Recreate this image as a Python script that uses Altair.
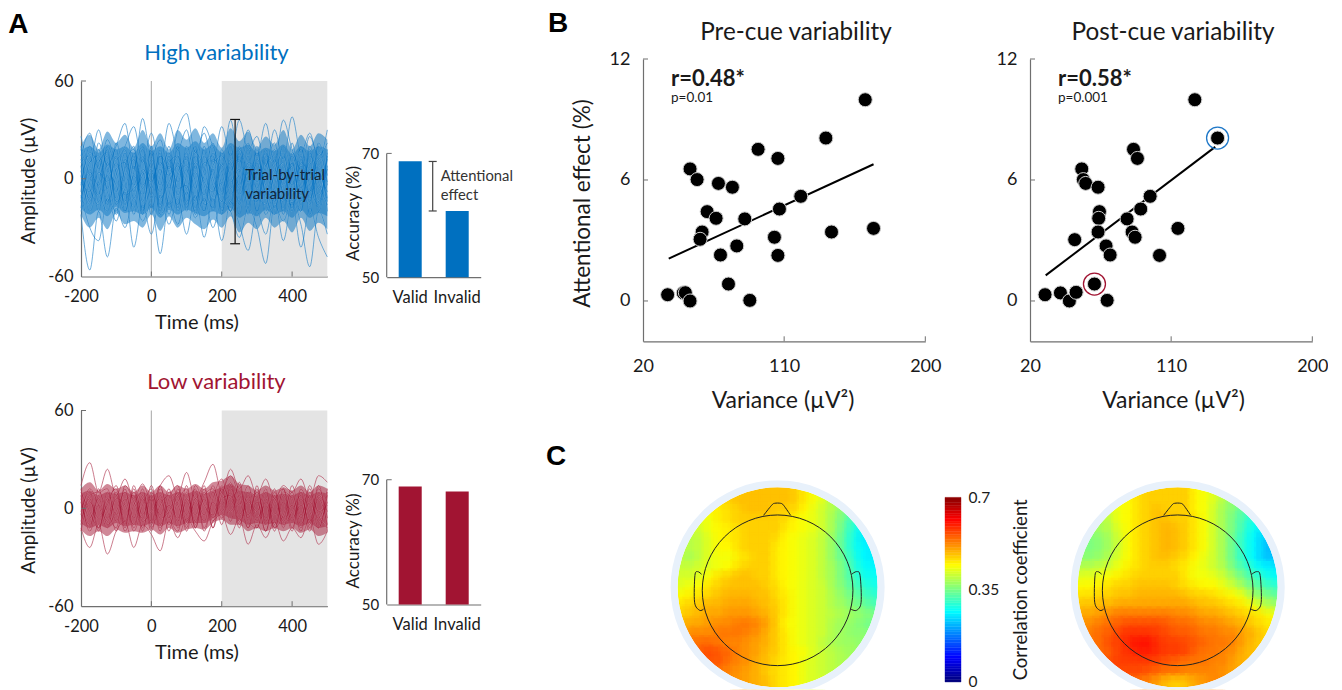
import altair as alt
import pandas as pd

FONT = "Lato"
BLUE = "#0070C0"
RED = "#A11432"
AX = "#6f6f6f"
TXT = "#1a1a1a"
PAD_TOP = 2

TIME = [-200,-175,-150,-125,-100,-75,-50,-25,0,25,50,75,100,125,150,175,200,225,250,275,300,325,350,375,400,425,450,475,500]
HIGH = [
[-22,-56,-20,-48,-18,-30,-12,-26,-15,-46,-14,-28,-8,-24,-12,-30,-14,-20,-36,-18,-30,-52,-16,-26,-12,-28,-54,-20,-34],
[-10,-30,-38,-12,-26,-8,-42,-16,-34,-10,-28,-12,-34,-10,-36,-12,-38,-14,-28,-44,-20,-34,-12,-38,-14,-42,-18,-36,-48],
[26,10,30,8,20,34,6,37,14,24,6,30,40,16,28,10,32,14,36,18,26,8,30,12,38,16,28,12,30],
[14,28,6,24,12,20,32,10,28,8,34,18,30,6,32,20,8,36,10,30,14,34,10,36,18,6,26,14,22],
[5,-12,18,-6,14,-16,8,-20,12,-4,20,-10,6,-18,14,0,-14,10,-22,8,-6,18,-12,4,-18,12,-8,20,-4],
[-14,6,-20,10,-8,16,-12,4,-22,14,-6,18,-14,8,-20,12,4,-16,14,-10,20,-8,6,-20,10,-14,16,-6,12],
[18,2,-10,20,4,-14,16,-6,10,-18,8,-2,16,-12,2,22,-8,12,-4,18,-14,6,22,-4,10,-16,6,-20,8],
[-4,16,8,-16,22,-2,-18,12,-6,18,-16,10,-20,14,-4,-18,18,-2,6,-16,10,-20,4,16,-8,20,-12,4,-14],
[8,-20,-2,14,-12,6,20,-14,4,-8,14,-20,2,20,-14,6,-22,16,-10,4,-20,12,-6,-14,22,-6,10,-18,16],
[-18,10,14,-8,-20,12,-4,18,-12,6,-22,4,12,-6,18,-20,10,-6,20,-2,16,-10,-22,8,-4,14,-22,8,-12],
[12,-6,-16,4,18,-20,2,-10,18,-20,10,14,-16,4,-10,16,-4,-20,4,22,-8,-16,12,-8,14,-4,-16,22,2],
[-8,20,-6,-20,6,10,-22,6,-2,14,4,-16,20,-2,-20,8,14,2,-14,10,4,-22,-4,20,2,-20,18,-10,6],
[2,-16,10,16,-14,-6,12,-22,20,-12,-2,8,-10,16,6,-14,-2,-20,16,-8,-14,14,8,-18,16,4,-8,12,-20],
[-20,-2,12,-14,2,18,-8,14,-18,2,16,-6,-4,-20,10,4,-18,8,-6,14,-20,2,18,-10,-16,10,2,-14,14],
[10,14,-14,2,-22,8,18,-4,6,-22,-10,20,-18,10,-2,-8,16,-10,2,-22,12,-4,-14,14,-6,-20,14,4,-8],
[-2,-8,22,6,-4,-20,4,20,-10,16,-18,2,8,-14,20,-4,-10,20,-16,6,-2,16,-18,2,8,18,-4,-16,18],
[20,-14,4,-2,10,-10,-6,2,16,-16,12,-18,14,-22,6,14,-20,4,12,-18,18,-12,2,10,-20,8,-14,16,-2],
[-12,4,-4,18,-16,2,14,-18,-4,10,2,14,-6,18,-16,-10,8,-14,18,2,-12,8,14,-22,4,-10,20,-2,-16],
]
HIGH_OUT_UP = [20,27,18,29,22,27,19,30,20,28,18,30,24,31,22,28,19,31,23,29,19,26,21,30,18,27,20,28,24]
HIGH_OUT_LO = [-22,-30,-24,-31,-21,-28,-26,-30,-22,-32,-23,-30,-24,-28,-31,-25,-30,-23,-33,-27,-31,-24,-30,-26,-33,-24,-32,-27,-31]
HIGH_IN_UP = [17,20,16,21,18,20,16,22,17,20,16,22,19,23,18,21,16,22,19,21,16,19,17,21,15,20,17,20,18]
HIGH_IN_LO = [-18,-22,-19,-23,-17,-21,-20,-22,-18,-24,-19,-22,-19,-21,-23,-20,-22,-18,-24,-21,-23,-19,-22,-20,-24,-19,-24,-21,-23]

LOW = [
[14,28,10,24,8,18,6,15,4,14,20,8,22,6,16,27,10,24,12,20,8,18,6,14,10,18,6,20,16],
[-12,-24,-10,-28,-14,-8,-24,-10,-16,-26,-8,-18,-6,-14,-20,-8,-4,-16,-6,-22,-10,-18,-8,-20,-12,-18,-6,-22,-14],
[4,-12,12,-6,10,-10,14,-4,8,-12,6,14,-8,10,-14,6,18,2,14,-6,12,-8,10,-6,14,-4,12,-8,4],
[-8,6,-14,10,-4,12,-12,6,-14,8,-10,4,12,-12,8,12,2,16,-4,8,-12,6,-14,8,-8,10,-12,6,-10],
[10,-2,-12,6,-14,4,8,-14,10,-4,12,-12,4,-10,12,-6,8,20,6,-12,4,-14,6,-8,2,-14,8,-12,10],
[-4,12,2,-12,8,-14,2,10,-8,14,-6,8,-14,6,-4,14,-2,10,-10,6,-8,10,-10,12,-12,6,-8,12,-6],
[6,-10,8,12,-8,6,-14,2,12,-10,2,-6,10,-8,6,-12,14,6,12,-4,10,-6,12,-12,8,-6,14,-4,-12],
[-14,4,-6,2,14,-8,10,-8,-2,6,-14,12,-4,12,-12,4,-6,12,2,14,-6,2,-12,4,-14,12,-2,-12,8],
[12,-6,6,-10,-2,10,-6,12,-12,2,8,-8,14,-12,10,-8,10,-2,8,-12,14,-10,4,12,-6,2,-14,8,-2],
[-2,10,-12,4,12,-12,12,-12,6,-14,10,2,-10,4,-8,10,-10,14,-8,4,-2,12,-12,-4,10,-10,4,-6,12],
[8,-14,2,-8,6,2,-10,8,-10,12,-4,-14,6,-4,14,-12,6,8,-12,10,6,-14,8,-10,-2,8,-10,14,-14],
[-10,8,10,-2,-12,14,4,-6,14,-6,-2,10,-12,14,2,-4,12,-8,16,-8,-12,4,-4,10,6,-12,10,-2,2],
]
LOW_OUT_UP = [12,16,11,15,12,14,10,14,10,14,10,14,12,15,12,16,17,20,15,14,11,14,11,13,11,14,10,14,12]
LOW_OUT_LO = [-13,-17,-14,-17,-13,-15,-14,-15,-13,-16,-12,-15,-13,-12,-13,-9,-7,-10,-10,-14,-12,-14,-12,-14,-12,-15,-13,-17,-15]
LOW_IN_UP = [9,11,8,10,9,10,8,10,8,10,8,10,9,11,9,11,13,15,11,10,8,10,8,9,8,10,8,10,9]
LOW_IN_LO = [-9,-12,-10,-12,-9,-11,-10,-11,-9,-11,-9,-11,-9,-9,-9,-6,-4,-6,-7,-10,-9,-10,-9,-10,-9,-11,-9,-12,-11]

CONDITIONS = ["Valid", "Invalid"]
ACC_HIGH = [68.75, 60.7]
ACC_LOW = [68.9, 68.1]

PRE_X = [35.7,45.7,47.0,50.0,50.0,54.5,68.1,77.0,60.9,66.6,57.7,56.4,84.9,79.8,69.4,74.5,88.1,93.4,106.0,103.8,106.0,107.0,120.6,136.6,161.7,140.2,167.0]
PRE_Y = [0.31,0.40,0.41,0.0,6.55,6.02,5.83,5.64,4.43,4.10,3.42,3.06,4.07,2.73,2.28,0.84,0.03,7.52,7.07,3.16,2.26,4.56,5.19,8.08,9.98,3.42,3.60]
POST_X = [29.6,39.4,45.1,49.4,48.5,53.0,54.0,55.5,63.4,64.3,63.8,63.4,68.5,71.1,61.1,69.2,81.9,85.1,87.0,90.6,96.6,86.0,88.5,102.6,114.3,125.1,139.6]
POST_Y = [0.31,0.40,0.0,0.43,3.04,6.55,6.02,5.83,5.64,4.43,4.10,3.42,2.73,2.28,0.84,0.03,4.07,3.42,3.16,4.56,5.19,7.52,7.07,2.26,3.60,9.98,8.08]
PRE_FIT_X, PRE_FIT_Y = [36.4, 167.0], [2.10, 6.78]
POST_FIT_X, POST_FIT_Y = [30.0, 138.1], [1.27, 7.64]

TOPO_LEFT = [
[47,48,48,48,48,48,47,45,43],
[46,47,48,48,48,48,48,48,47,45,43,41,38],
[44,45,46,47,48,48,48,47,47,46,44,42,40,38,35],
[42,43,45,46,47,47,47,47,47,46,44,43,42,40,37,34,30],
[40,41,43,44,45,46,47,47,47,47,45,44,43,42,40,37,33,29,26],
[39,40,42,44,45,46,47,47,47,46,44,43,42,41,39,36,32,28,25],
[39,39,40,42,44,44,46,47,47,47,45,44,43,42,41,39,36,32,28,26,25],
[39,38,40,42,43,43,45,46,47,47,45,44,43,42,41,39,36,33,29,26,25],
[40,40,41,42,43,44,46,47,47,47,45,44,43,42,41,39,37,34,30,27,26],
[41,41,42,44,46,47,48,48,47,47,45,44,43,42,41,39,37,34,31,28,27],
[42,43,44,46,47,48,48,48,48,47,46,44,43,42,41,40,37,35,32,30,28],
[44,45,46,47,48,49,49,49,48,48,46,45,43,42,41,40,38,36,34,32,30],
[46,47,48,49,49,50,50,50,49,48,47,45,43,42,41,40,38,37,35,34,32],
[47,48,49,50,50,51,51,51,50,49,47,45,43,42,41,40,39,38,37,36,35],
[49,50,50,51,52,52,53,53,52,50,47,44,43,42,41,40,38,37,36,35,34],
[52,52,52,53,53,53,52,51,49,47,45,43,42,41,40,38,37,36,36],
[53,54,54,53,52,52,51,50,49,47,45,43,42,41,39,38,37,37,36],
[55,56,55,54,52,51,50,48,47,45,44,43,41,40,39,38,37],
[55,55,53,52,51,49,48,46,45,44,42,41,40,39,38],
[53,52,51,50,49,47,46,45,44,42,41,40,39],
[51,50,49,48,46,45,44,42,41],
]
TOPO_RIGHT = [
[46,47,47,47,47,47,44,43,41],
[43,44,46,47,47,47,47,47,44,43,41,38,36],
[41,43,44,46,47,48,47,47,47,44,43,40,37,35,32],
[38,40,43,44,46,47,48,48,47,47,45,43,40,37,34,31,28],
[36,38,39,42,44,46,47,48,49,48,47,45,43,40,37,34,30,27,25],
[35,36,38,41,44,46,47,48,49,48,47,45,43,40,37,33,29,26,23],
[35,35,36,38,41,44,46,47,48,49,48,47,45,43,40,37,33,29,26,23,21],
[36,36,37,39,42,44,46,47,48,48,47,46,44,42,40,37,33,29,26,23,22],
[39,39,40,41,43,45,46,47,47,47,46,45,43,42,40,38,34,31,28,26,25],
[42,42,43,44,45,46,47,47,47,47,47,45,43,43,42,40,37,34,31,29,27],
[44,44,45,46,47,47,48,48,48,48,47,46,45,44,44,42,40,37,34,32,30],
[46,46,47,47,48,48,49,49,49,49,49,48,47,47,46,45,44,42,38,36,34],
[48,48,49,49,50,50,50,50,50,50,50,50,49,48,48,47,46,45,43,40,38],
[50,50,51,52,53,53,53,53,53,53,52,52,51,50,50,49,48,47,46,45,43],
[51,52,53,54,55,56,56,56,56,55,54,54,53,52,52,51,50,49,47,46,45],
[53,54,55,57,58,58,58,57,56,55,55,54,53,53,52,52,50,49,47],
[53,54,56,57,59,60,60,58,57,57,56,55,54,53,53,52,50,48,47],
[54,55,57,58,59,59,58,57,57,56,54,53,53,52,51,49,48],
[56,57,57,57,57,56,55,54,53,53,53,52,52,50,49],
[56,56,56,55,54,53,53,52,52,52,52,51,50],
[53,52,50,48,47,48,50,51,52],
]
NOSE = [(-14,72),(-6,82),(-3,84),(3,84),(6,82),(13,72)]
EAR_L = [(-76,13),(-80,15.7),(-82.7,11.7),(-83,-15),(-78,-23),(-74,-21.7)]
EAR_R = [(74,13),(79,15.7),(82.5,11.7),(83.5,-15),(79,-23),(73,-21.7)]

JET_STOPS = [0, 0.0875, 0.2625, 0.4375, 0.6125, 0.7]
JET = ["#00007f", "#0000ff", "#00ffff", "#ffff00", "#ff0000", "#7f0000"]
COLOR_SCALE = alt.Scale(domain=JET_STOPS, range=JET, interpolate="rgb")
HYPHEN = "'' + datum.value"


def one(**kw):
    return alt.Chart(pd.DataFrame([kw]))


def label(text, px, py, size, weight="normal", color=TXT, font=FONT, align="left"):
    return one(t=text).mark_text(align=align, baseline="alphabetic", fontSize=size,
                                 fontWeight=weight, color=color, font=font).encode(
        x=alt.value(px), y=alt.value(py), text="t:N")


def wave(traces, out_up, out_lo, in_up, in_lo, color, title, h, extras):
    xs = alt.Scale(domain=[-200, 500], nice=False, zero=False)
    ys = alt.Scale(domain=[-60, 60], nice=False, zero=False)
    w = 246.3
    long = pd.DataFrame([{"t": t, "v": v, "k": i} for i, tr in enumerate(traces) for t, v in zip(TIME, tr)])
    bands = pd.DataFrame({"t": TIME, "ou": out_up, "ol": out_lo, "iu": in_up, "il": in_lo})
    shade = one(a=200, b=500, c=-60, d=60).mark_rect(color="#E4E4E4").encode(
        x=alt.X("a:Q", scale=xs, axis=alt.Axis(values=[-200, 0, 200, 400], title="Time (ms)", labelExpr=HYPHEN,
                labelPadding=12, labelFontSize=16.5, titleFontSize=20, titleX=115.5, titleY=52, titleBaseline="alphabetic",
                labelAngle=0)),
        x2="b:Q",
        y=alt.Y("c:Q", scale=ys, axis=alt.Axis(values=[-60, 0, 60], title="Amplitude (µV)", labelPadding=8, labelExpr=HYPHEN,
                labelFontSize=16.5, titleFontSize=19, titleX=-46.7, titleY=99.5, titleBaseline="alphabetic", titleAngle=270)),
        y2="d:Q")
    outer = alt.Chart(bands).mark_area(color=color, opacity=0.5, interpolate="monotone").encode(
        x=alt.X("t:Q", scale=xs), y=alt.Y("ou:Q", scale=ys), y2="ol:Q")
    inner = alt.Chart(bands).mark_area(color=color, opacity=0.45, interpolate="monotone").encode(
        x=alt.X("t:Q", scale=xs), y=alt.Y("iu:Q", scale=ys), y2="il:Q")
    halo = alt.Chart(long).mark_line(color="white", strokeWidth=1.4, opacity=0.22, interpolate="monotone").encode(
        x=alt.X("t:Q", scale=xs), y=alt.Y("v:Q", scale=ys), detail="k:N")
    lines = alt.Chart(long).mark_line(color=color, strokeWidth=0.8, opacity=0.7, interpolate="monotone").encode(
        x=alt.X("t:Q", scale=xs), y=alt.Y("v:Q", scale=ys), detail="k:N")
    zero = one(t=0, a=-60, b=60).mark_rule(color="#b4b4b4", strokeWidth=1.2).encode(
        x=alt.X("t:Q", scale=xs), y=alt.Y("a:Q", scale=ys), y2="b:Q")
    xt = alt.Chart(pd.DataFrame({"t": [0, 200, 400]})).mark_rule(color=AX).encode(
        x=alt.X("t:Q", scale=xs), y=alt.value(h), y2=alt.value(h - 5))
    yt = alt.Chart(pd.DataFrame({"v": [60, 0]})).mark_rule(color=AX).encode(
        y=alt.Y("v:Q", scale=ys), x=alt.value(0), x2=alt.value(5))
    head = label(title, 135.5, -21.5, 22, color=color, align="center")
    return alt.layer(shade, zero, outer, inner, halo, lines, xt, yt, head, *[e(xs, ys) for e in extras]).properties(width=w, height=h)


def bars(acc, color, h, top, title_y, extras):
    ys = alt.Scale(domain=[50, top], nice=False, zero=False)
    xs = alt.Scale(domain=CONDITIONS, paddingInner=0.51, paddingOuter=0.255)
    b = alt.Chart(pd.DataFrame({"c": CONDITIONS, "v": acc, "b": [50, 50]})).mark_bar(color=color).encode(
        x=alt.X("c:N", sort=CONDITIONS, scale=xs, axis=alt.Axis(title=None, labelPadding=12, labelFontSize=16.5, labelAngle=0)),
        y=alt.Y("v:Q", scale=ys, axis=alt.Axis(values=[50, 70], title="Accuracy (%)", domain=False, labelPadding=8,
                labelFontSize=15, titleFontSize=17, titleX=-28.7, titleY=title_y, titleBaseline="alphabetic", titleAngle=270)),
        y2="b:Q")
    spine = one(a=50, b=70).mark_rule(color=AX, strokeWidth=1.2).encode(
        x=alt.value(0), y=alt.Y("a:Q", scale=ys), y2="b:Q")
    yt = one(v=70).mark_rule(color=AX).encode(y=alt.Y("v:Q", scale=ys), x=alt.value(0), x2=alt.value(5))
    return alt.layer(b, spine, yt, *[e(ys) for e in extras]).properties(width=94, height=h)


def trial_bracket(xs, ys):
    low, high, t = -39.9, 36.4, 238
    stem = one(t=t, a=low, b=high).mark_rule(color="#111", strokeWidth=1.2).encode(
        x=alt.X("t:Q", scale=xs), y=alt.Y("a:Q", scale=ys), y2="b:Q")
    caps = alt.Chart(pd.DataFrame({"v": [low, high], "a": [t - 14, t - 14], "b": [t + 14, t + 14]})).mark_rule(
        color="#111", strokeWidth=1.2).encode(
        y=alt.Y("v:Q", scale=ys), x=alt.X("a:Q", scale=xs), x2="b:Q")
    return stem + caps


def acc_bracket(ys):
    low, high = 60.7, 68.7
    stem = one(a=low, b=high).mark_rule(color="#444", strokeWidth=1.2).encode(
        x=alt.value(46), y=alt.Y("a:Q", scale=ys), y2="b:Q")
    caps = alt.Chart(pd.DataFrame({"v": [low, high]})).mark_rule(color="#444", strokeWidth=1.2).encode(
        y=alt.Y("v:Q", scale=ys), x=alt.value(42), x2=alt.value(50))
    return stem + caps


def scatter(px, py, fx, fy, title, cx, r_text, p_text, title_x, show_y, rings, extras):
    xs = alt.Scale(domain=[20, 200], nice=False, zero=False)
    ys = alt.Scale(domain=[-2, 12], nice=False, zero=False)
    y_axis = alt.Axis(values=[0, 6, 12], title="Attentional effect (%)" if show_y else None, labelPadding=13,
                      labelFontSize=18, titleFontSize=22.5, titleX=-53.7, titleY=144,
                      titleBaseline="alphabetic", titleAngle=270)
    fit = alt.Chart(pd.DataFrame({"x": fx, "y": fy})).mark_line(color="black", strokeWidth=2).encode(
        x=alt.X("x:Q", scale=xs, axis=alt.Axis(values=[20, 110, 200], title="Variance (µV²)", labelPadding=16,
                labelFontSize=18, titleFontSize=23, titleX=title_x, titleY=65.7, titleBaseline="alphabetic", labelAngle=0)),
        y=alt.Y("y:Q", scale=ys, axis=y_axis))
    dots = alt.Chart(pd.DataFrame({"x": px, "y": py})).mark_point(
        filled=True, fill="black", stroke="#cfcfcf", strokeWidth=1, size=196, opacity=1).encode(
        x=alt.X("x:Q", scale=xs), y=alt.Y("y:Q", scale=ys))
    xt = alt.Chart(pd.DataFrame({"t": [110, 200]})).mark_rule(color=AX).encode(
        x=alt.X("t:Q", scale=xs), y=alt.value(282.3), y2=alt.value(277.3))
    yt = alt.Chart(pd.DataFrame({"v": [12, 6, 0]})).mark_rule(color=AX).encode(
        y=alt.Y("v:Q", scale=ys), x=alt.value(0), x2=alt.value(5))
    layers = [fit, dots, xt, yt, label(title, cx, -18.7, 24.3, align="center"),
              label(r_text, 28, 26.5, 22, "bold"), label(p_text, 28, 43, 13.5)]
    for (rx, ry, col) in rings:
        layers.append(one(x=rx, y=ry).mark_point(shape="circle", filled=False, stroke=col, strokeWidth=1.3, size=484, opacity=1).encode(
            x=alt.X("x:Q", scale=xs), y=alt.Y("y:Q", scale=ys)))
    return alt.layer(*layers, *extras).properties(width=282.3, height=282.3)


def topo(rows, x_left, x_right, extras):
    cell = 200 / 21
    recs = []
    for r, row in enumerate(rows):
        for c, v in enumerate(row):
            cx = (c - (len(row) - 1) / 2) * cell
            cy = (10 - r) * cell
            recs.append({"x": cx - cell / 2, "x2": cx + cell / 2, "y": cy - cell / 2, "y2": cy + cell / 2,
                         "xa": cx - cell, "xb": cx + cell, "ya": cy - cell, "yb": cy + cell,
                         "xc": cx - 0.75 * cell, "xd": cx + 0.75 * cell, "yc": cy - 0.75 * cell, "yd": cy + 0.75 * cell,
                         "v": v / 100})
    tbl = pd.DataFrame(recs)
    xs = alt.Scale(domain=[x_left, x_right], nice=False, zero=False)
    ys = alt.Scale(domain=[-102, 107], nice=False, zero=False)
    X, Y = alt.X("x:Q", scale=xs, axis=None), alt.Y("y:Q", scale=ys, axis=None)
    col = alt.Color("v:Q", scale=COLOR_SCALE, legend=None)
    grid = alt.Chart(tbl).mark_rect(strokeWidth=0.6, clip=True).encode(
        x=X, x2="x2:Q", y=Y, y2="y2:Q", color=col,
        stroke=alt.Stroke("v:Q", scale=COLOR_SCALE, legend=None))
    soft1 = alt.Chart(tbl).mark_rect(opacity=0.4, clip=True).encode(
        x=alt.X("xa:Q", scale=xs, axis=None), x2="xb:Q", y=alt.Y("ya:Q", scale=ys, axis=None), y2="yb:Q", color=col)
    soft2 = alt.Chart(tbl).mark_rect(opacity=0.4, clip=True).encode(
        x=alt.X("xc:Q", scale=xs, axis=None), x2="xd:Q", y=alt.Y("yc:Q", scale=ys, axis=None), y2="yd:Q", color=col)
    mask = one(x=0, y=0).mark_arc(radius=100, radius2=125, theta=0, theta2=6.2832, color="white", clip=True).encode(x=X, y=Y)
    ring = one(x=0, y=0).mark_arc(radius=100, radius2=107, theta=0, theta2=6.2832, color="#E8F1FB", clip=True).encode(x=X, y=Y)
    head = one(x=0, y=-3).mark_point(shape="circle", filled=False, stroke="#222", strokeWidth=1, size=22700, opacity=1, clip=True).encode(x=X, y=Y)
    parts = []
    for name, pts in (("n", NOSE), ("l", EAR_L), ("r", EAR_R)):
        d = pd.DataFrame({"x": [p[0] for p in pts], "y": [p[1] for p in pts], "i": range(len(pts))})
        parts.append(alt.Chart(d).mark_line(color="#222", strokeWidth=1, interpolate="cardinal").encode(x=X, y=Y, order="i:O"))
    return alt.layer(grid, soft1, soft2, mask, ring, head, *parts, *extras).properties(width=x_right - x_left, height=209)


def colorbar():
    vals = [i / 100 for i in range(0, 70)]
    d = pd.DataFrame({"v": vals, "y": vals, "y2": [v + 0.01 for v in vals]})
    ys = alt.Scale(domain=[-0.0278, 0.7648], nice=False, zero=False)
    return alt.Chart(d).mark_rect(strokeWidth=0.4).encode(
        y=alt.Y("y:Q", scale=ys, axis=alt.Axis(orient="right", values=[0, 0.35, 0.7], format=".2~f",
                title="Correlation coefficient", domain=False, labelPadding=7, labelFontSize=15.5,
                titleFontSize=18.5, titleX=65.7, titleY=109, titleBaseline="alphabetic", titleAngle=270)),
        y2="y2:Q", x=alt.value(0), x2=alt.value(16),
        color=alt.Color("v:Q", scale=COLOR_SCALE, legend=None),
        stroke=alt.Stroke("v:Q", scale=COLOR_SCALE, legend=None)).properties(width=16, height=209)


def letter(ch, px, py):
    return label(ch, px, py, 28, "bold", "black", "Liberation Sans")


w1 = wave(HIGH, HIGH_OUT_UP, HIGH_OUT_LO, HIGH_IN_UP, HIGH_IN_LO, BLUE, "High variability", 195.5,
          [lambda xs, ys: trial_bracket(xs, ys),
           lambda xs, ys: label("Trial-by-trial", 164.3, 98.5, 15, color="#10253a"),
           lambda xs, ys: label("variability", 164.3, 117.5, 15, color="#10253a"),
           lambda xs, ys: letter("A", -72.7, -48.5)])
b1 = bars(ACC_HIGH, BLUE, 196.2, 81.7, 132,
          [acc_bracket,
           lambda ys: label("Attentional", 54, 99.5, 14.8, color="#333"),
           lambda ys: label("effect", 54, 118.5, 14.8, color="#333")])
w2 = wave(LOW, LOW_OUT_UP, LOW_OUT_LO, LOW_IN_UP, LOW_IN_LO, RED, "Low variability", 195.7, [])
b2 = bars(ACC_LOW, RED, 194, 81.1, 130, [])

row1 = alt.hconcat(w1, b1, spacing=58.7, bounds="flush")
row2 = alt.hconcat(w2, b2, spacing=58.7, bounds="flush")
left_inner = alt.vconcat(row1, row2, spacing=329.5, bounds="flush")
spacer = alt.Chart(pd.DataFrame({"a": [0]})).mark_rule(opacity=0).encode(x=alt.value(0)).properties(width=10, height=21.8)
left = alt.vconcat(spacer, left_inner, spacing=0, bounds="flush")

s1 = scatter(PRE_X, PRE_Y, PRE_FIT_X, PRE_FIT_Y, "Pre-cue variability", 153, "r=0.48*", "p=0.01", 139.5, True, [],
             [letter("B", -95, -26.7)])
s2 = scatter(POST_X, POST_Y, POST_FIT_X, POST_FIT_Y, "Post-cue variability", 143, "r=0.58*", "p=0.001", 143, False,
             [(139.6, 8.08, "#1F78C8"), (61.1, 0.84, RED)], [])
t1 = topo(TOPO_LEFT, -134.6, 146.7, [letter("C", -97, -15)])
t2 = topo(TOPO_RIGHT, -196.7, 107.3, [])
top_right = alt.hconcat(s1, s2, spacing=104, bounds="flush")
bottom_right = alt.hconcat(t1, colorbar(), t2, spacing=20, bounds="flush")
right = alt.vconcat(top_right, bottom_right, spacing=421.3, bounds="flush")

chart = alt.hconcat(left, right, spacing=562, bounds="flush").properties(
    padding={"left": 0, "top": PAD_TOP, "right": 0, "bottom": 0}
).configure_view(strokeWidth=0).configure_axis(
    grid=False, ticks=False, domainColor=AX, domainWidth=1.2, labelFont=FONT, titleFont=FONT,
    labelColor=TXT, titleColor=TXT, titleFontWeight="normal", labelOverlap=False, labelFlush=False,
    labelBound=False
)

chart.save("out.html", embed_options={"renderer": "svg", "actions": False})
